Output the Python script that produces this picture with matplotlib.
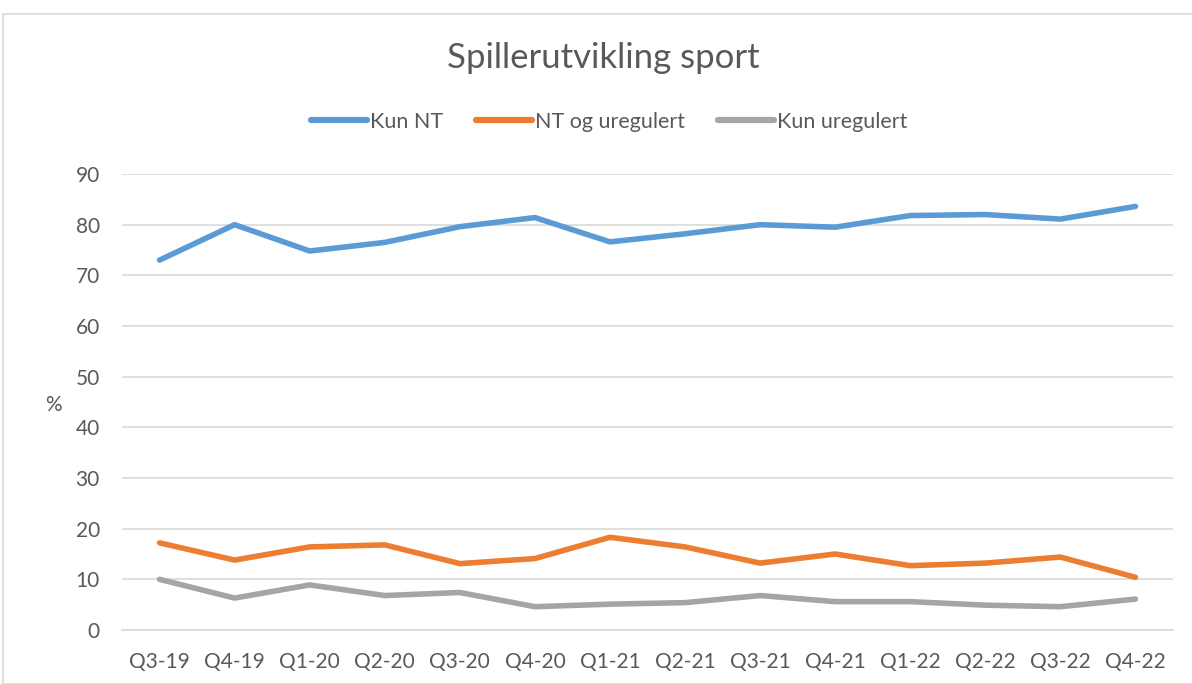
import matplotlib
matplotlib.use("Agg")
import matplotlib.pyplot as plt
from matplotlib.patches import Rectangle

categories = ["Q3-19", "Q4-19", "Q1-20", "Q2-20", "Q3-20", "Q4-20", "Q1-21",
              "Q2-21", "Q3-21", "Q4-21", "Q1-22", "Q2-22", "Q3-22", "Q4-22"]
kun_nt = [73.0, 80.0, 74.8, 76.5, 79.6, 81.4, 76.6, 78.2, 80.0, 79.5, 81.8, 82.0, 81.1, 83.6]
nt_og_uregulert = [17.2, 13.8, 16.4, 16.8, 13.1, 14.1, 18.3, 16.4, 13.2, 15.0, 12.7, 13.2, 14.4, 10.4]
kun_uregulert = [10.0, 6.3, 8.9, 6.8, 7.4, 4.6, 5.1, 5.4, 6.8, 5.6, 5.6, 4.9, 4.6, 6.1]
series_names = ["Kun NT", "NT og uregulert", "Kun uregulert"]
colors = ["#5B9BD5", "#ED7D31", "#A5A5A5"]
yticks = [0, 10, 20, 30, 40, 50, 60, 70, 80, 90]

plt.rcParams['font.family'] = ['Lato', 'DejaVu Sans']
txt = "#595959"

W, H = 1192, 684
fig = plt.figure(figsize=(W / 100, H / 100), dpi=100)
fig.patch.set_facecolor("white")

# chart border
fig.patches.append(Rectangle((3 / W, 0), 1.2, 1 - 14 / H, transform=fig.transFigure,
                             fill=False, edgecolor="#D9D9D9", linewidth=1.2, zorder=0))

ax = fig.add_axes([122 / W, 1 - 630 / H, (1173 - 122) / W, (630 - 174) / H])
x = list(range(len(categories)))
for vals, name, c in zip([kun_nt, nt_og_uregulert, kun_uregulert], series_names, colors):
    ax.plot(x, vals, color=c, linewidth=4.0, solid_capstyle="round",
            solid_joinstyle="round", label=name, zorder=3)

ax.set_xlim(-0.5, len(categories) - 0.5)
ax.set_ylim(0, 90)
ax.set_yticks(yticks)
ax.set_xticks(x)
ax.set_xticklabels(categories)
ax.yaxis.grid(True, color="#D9D9D9", linewidth=1.2)
ax.set_axisbelow(True)
for s in ["top", "right", "left"]:
    ax.spines[s].set_visible(False)
ax.spines["bottom"].set_color("#D9D9D9")
ax.spines["bottom"].set_linewidth(1.2)
ax.tick_params(axis="both", length=0, labelsize=15, colors=txt)
ax.tick_params(axis="x", pad=16)
ax.tick_params(axis="y", pad=16)

fig.text(53 / W, 1 - 405 / H, "%", ha="center", va="center", fontsize=15, color=txt)
fig.text(603 / W, 1 - 58 / H, "Spillerutvikling sport", ha="center", va="center",
         fontsize=25, color=txt)

leg = fig.legend(loc="center", bbox_to_anchor=(609 / W, 1 - 122 / H), ncol=3,
                 frameon=False, fontsize=15.5, handlelength=2.6, handletextpad=0.12,
                 columnspacing=1.55, labelcolor=txt)
for line in leg.get_lines():
    line.set_linewidth(4.5)

fig.savefig("out.png", dpi=100)
